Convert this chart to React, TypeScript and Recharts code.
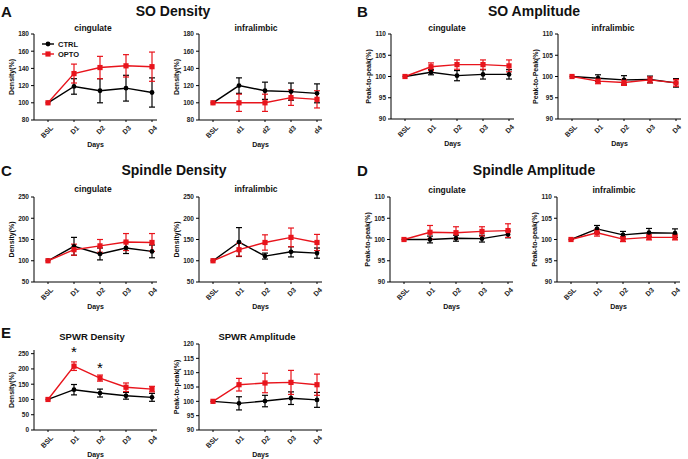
import React from 'react';
import { ErrorBar, Line, LineChart, ReferenceDot, XAxis, YAxis } from 'recharts';

const RED = '#e8141c';
const FONT = '"Liberation Sans", Arial, sans-serif';

const days = ['BSL', 'D1', 'D2', 'D3', 'D4'];
const daysLower = ['BSL', 'd1', 'd2', 'd3', 'd4'];

// SO density
const soDensCingCtrl = [100, 119, 114, 117, 112];
const soDensCingCtrlSem = [0, 9, 14, 15, 17];
const soDensCingOpto = [100, 134, 141, 143, 142];
const soDensCingOptoSem = [0, 11, 13, 13, 17];
const soDensInfCtrl = [100, 120, 114, 113, 111];
const soDensInfCtrlSem = [0, 9, 10, 10, 11];
const soDensInfOpto = [100, 100, 100, 106, 104];
const soDensInfOptoSem = [0, 10, 10, 9, 10];

// SO amplitude
const soAmpCingCtrl = [100, 101, 100.2, 100.5, 100.5];
const soAmpCingCtrlSem = [0, 0.6, 1.2, 1.1, 1.1];
const soAmpCingOpto = [100, 102.3, 102.8, 102.8, 102.5];
const soAmpCingOptoSem = [0, 0.9, 1.1, 1.1, 1.4];
const soAmpInfCtrl = [100, 99.6, 99.2, 99.3, 98.5];
const soAmpInfCtrlSem = [0, 0.8, 1, 0.8, 1];
const soAmpInfOpto = [100, 98.9, 98.6, 99.2, 98.5];
const soAmpInfOptoSem = [0, 0.6, 0.7, 0.7, 0.8];

// spindle density
const spDensCingCtrl = [100, 134, 116, 130, 122];
const spDensCingCtrlSem = [0, 21, 14, 13, 15];
const spDensCingOpto = [100, 126, 135, 144, 143];
const spDensCingOptoSem = [0, 13, 15, 20, 21];
const spDensInfCtrl = [100, 144, 111, 121, 118];
const spDensInfCtrlSem = [0, 34, 7, 12, 12];
const spDensInfOpto = [100, 126, 143, 155, 143];
const spDensInfOptoSem = [0, 15, 18, 22, 19];

// spindle amplitude
const spAmpCingCtrl = [100, 100, 100.3, 100.2, 101.2];
const spAmpCingCtrlSem = [0, 0.8, 0.7, 0.8, 0.8];
const spAmpCingOpto = [100, 101.7, 101.6, 101.9, 102.1];
const spAmpCingOptoSem = [0, 1.6, 1.4, 1.1, 1.6];
const spAmpInfCtrl = [100, 102.5, 101.1, 101.6, 101.5];
const spAmpInfCtrlSem = [0, 0.8, 0.8, 1, 1];
const spAmpInfOpto = [100, 101.6, 100.1, 100.5, 100.5];
const spAmpInfOptoSem = [0, 0.8, 0.6, 0.6, 0.6];

// SPWR
const swDensCtrl = [100, 132, 121, 112, 107];
const swDensCtrlSem = [0, 17, 13, 11, 13];
const swDensOpto = [100, 209, 170, 140, 134];
const swDensOptoSem = [0, 14, 10, 14, 9];
const swAmpCtrl = [100, 99.3, 100.1, 101.1, 100.5];
const swAmpCtrlSem = [0, 2.3, 2, 2.2, 2.6];
const swAmpOpto = [100, 105.8, 106.4, 106.6, 105.8];
const swAmpOptoSem = [0, 2.2, 3.4, 4.2, 3.7];

const swStarDays = ['D1', 'D2'];
const swStarValues = [262, 210];

const soDensTicks = [80, 100, 120, 140, 160, 180];
const ampTicks = [90, 95, 100, 105, 110];
const spDensTicks = [50, 100, 150, 200, 250];
const swDensTicks = [0, 50, 100, 150, 200, 250];
const swAmpTicks = [90, 95, 100, 105, 110, 115, 120];

const build = (cats: string[], ctrl: number[], ctrlSem: number[], opto: number[], optoSem: number[]) =>
  cats.map((day, i) => ({ day, ctrl: ctrl[i], ctrlSem: ctrlSem[i], opto: opto[i], optoSem: optoSem[i] }));

const RotTick = (props: any) => {
  const { x, y, payload } = props;
  return (
    <g transform={`translate(${x + 2},${y + 1})`}>
      <text x={0} y={0} dy={5} textAnchor="end" transform="rotate(-45)" fontSize={7} fontWeight="bold" fill="#222" fontFamily={FONT}>
        {payload.value}
      </text>
    </g>
  );
};

const CircleDot = (p: any) => (p.cx == null ? null : <circle key={p.index} cx={p.cx} cy={p.cy} r={2.4} fill="#000" />);
const SquareDot = (p: any) => (p.cx == null ? null : <rect key={p.index} x={p.cx - 2.6} y={p.cy - 2.6} width={5.2} height={5.2} fill={RED} />);

const Star = (p: any) => (
  <text x={p.cx} y={p.cy + 7} textAnchor="middle" fontSize={15} fontFamily={FONT} fill="#000">*</text>
);

interface ISubProps {
  x: number;
  y: number;
  h: number;
  data: any[];
  domain: number[];
  ticks: number[];
  yLabel: string;
  stars?: boolean;
}

const Sub = ({ x, y, h, data, domain, ticks, yLabel, stars }: ISubProps) => (
  <div style={{ position: 'absolute', left: x - 34, top: y - 10 }}>
    <LineChart width={161} height={h + 40} data={data} margin={{ top: 10, right: 4, bottom: 0, left: 0 }}>
      <XAxis
        dataKey="day"
        scale="point"
        padding={{ left: 14, right: 5 }}
        height={30}
        tickSize={2}
        interval={0}
        stroke="#000"
        tick={<RotTick />}
        label={{ value: 'Days', position: 'insideBottom', offset: 3, style: { fontSize: 7, fontWeight: 'bold', fill: '#111', fontFamily: FONT } }}
      />
      <YAxis
        width={34}
        domain={domain}
        ticks={ticks}
        interval={0}
        allowDataOverflow
        tickSize={3}
        stroke="#000"
        tick={{ fontSize: 6.5, fontWeight: 'bold', fill: '#222', fontFamily: FONT }}
        label={{ value: yLabel, angle: -90, position: 'insideLeft', offset: 12, style: { textAnchor: 'middle', fontSize: 7, fontWeight: 'bold', fill: '#111', fontFamily: FONT } }}
      />
      <Line dataKey="ctrl" stroke="#000" strokeWidth={1.4} dot={CircleDot} activeDot={false} isAnimationActive={false}>
        <ErrorBar dataKey="ctrlSem" direction="y" width={3} stroke="#000" strokeWidth={1.2} />
      </Line>
      <Line dataKey="opto" stroke={RED} strokeWidth={1.4} dot={SquareDot} activeDot={false} isAnimationActive={false}>
        <ErrorBar dataKey="optoSem" direction="y" width={3} stroke={RED} strokeWidth={1.2} />
      </Line>
      {stars &&
        swStarDays.map((d, i) => (
          <ReferenceDot key={d} x={d} y={swStarValues[i]} r={0} ifOverflow="visible" shape={Star} />
        ))}
    </LineChart>
  </div>
);

const Txt = ({ x, y, size, children, anchor = 'middle' }: any) => (
  <div
    style={{
      position: 'absolute',
      left: x,
      top: y,
      transform: anchor === 'middle' ? 'translate(-50%,-50%)' : 'translate(0,-50%)',
      fontSize: size,
      fontWeight: 'bold',
      fontFamily: FONT,
      whiteSpace: 'nowrap',
      lineHeight: 1,
      color: '#111'
    }}
  >
    {children}
  </div>
);

const LegendRow = ({ y, label, color, square }: any) => (
  <div style={{ position: 'absolute', left: 42, top: y - 5, height: 10, display: 'flex', alignItems: 'center' }}>
    <svg width={12} height={10}>
      <line x1={0} y1={5} x2={12} y2={5} stroke={color} strokeWidth={1.4} />
      {square ? <rect x={3.4} y={2.4} width={5.2} height={5.2} fill={color} /> : <circle cx={6} cy={5} r={2.4} fill={color} />}
    </svg>
    <span style={{ marginLeft: 4, fontSize: 7.5, fontWeight: 'bold', fontFamily: FONT, color: '#111' }}>{label}</span>
  </div>
);

export default function App() {
  return (
    <div style={{ position: 'absolute', left: 0, top: 0, width: 688, height: 459, background: '#fff', overflow: 'hidden' }}>
      <Txt x={1} y={11} size={15} anchor="start">A</Txt>
      <Txt x={173} y={11} size={14}>SO Density</Txt>
      <Txt x={93} y={28} size={8.5}>cingulate</Txt>
      <Txt x={256} y={28} size={8.5}>infralimbic</Txt>
      <Sub x={34} y={34} h={86} domain={[80, 180]} ticks={soDensTicks} yLabel="Density(%)"
        data={build(days, soDensCingCtrl, soDensCingCtrlSem, soDensCingOpto, soDensCingOptoSem)} />
      <Sub x={199} y={34} h={86} domain={[80, 180]} ticks={soDensTicks} yLabel="Density(%)"
        data={build(daysLower, soDensInfCtrl, soDensInfCtrlSem, soDensInfOpto, soDensInfOptoSem)} />
      <LegendRow y={44} label="CTRL" color="#000" />
      <LegendRow y={54} label="OPTO" color={RED} square />

      <Txt x={357} y={11} size={15} anchor="start">B</Txt>
      <Txt x={534} y={11} size={14}>SO Amplitude</Txt>
      <Txt x={447} y={28} size={8.5}>cingulate</Txt>
      <Txt x={613} y={28} size={8.5}>infralimbic</Txt>
      <Sub x={391} y={34} h={85} domain={[90, 110]} ticks={ampTicks} yLabel="Peak-to-peak(%)"
        data={build(days, soAmpCingCtrl, soAmpCingCtrlSem, soAmpCingOpto, soAmpCingOptoSem)} />
      <Sub x={558} y={34} h={85} domain={[90, 110]} ticks={ampTicks} yLabel="Peak-to-Peak(%)"
        data={build(days, soAmpInfCtrl, soAmpInfCtrlSem, soAmpInfOpto, soAmpInfOptoSem)} />

      <Txt x={1} y={170} size={15} anchor="start">C</Txt>
      <Txt x={174} y={170} size={14}>Spindle Density</Txt>
      <Txt x={93} y={189} size={8.5}>cingulate</Txt>
      <Txt x={256} y={189} size={8.5}>infralimbic</Txt>
      <Sub x={34} y={197} h={85} domain={[50, 250]} ticks={spDensTicks} yLabel="Density(%)"
        data={build(days, spDensCingCtrl, spDensCingCtrlSem, spDensCingOpto, spDensCingOptoSem)} />
      <Sub x={199} y={197} h={85} domain={[50, 250]} ticks={spDensTicks} yLabel="Density(%)"
        data={build(days, spDensInfCtrl, spDensInfCtrlSem, spDensInfOpto, spDensInfOptoSem)} />

      <Txt x={357} y={170} size={15} anchor="start">D</Txt>
      <Txt x={534} y={170} size={14}>Spindle Amplitude</Txt>
      <Txt x={447} y={190} size={8.5}>cingulate</Txt>
      <Txt x={614} y={190} size={8.5}>infralimbic</Txt>
      <Sub x={390} y={197} h={85} domain={[90, 110]} ticks={ampTicks} yLabel="Peak-to-peak(%)"
        data={build(days, spAmpCingCtrl, spAmpCingCtrlSem, spAmpCingOpto, spAmpCingOptoSem)} />
      <Sub x={557} y={197} h={85} domain={[90, 110]} ticks={ampTicks} yLabel="Peak-to-peak(%)"
        data={build(days, spAmpInfCtrl, spAmpInfCtrlSem, spAmpInfOpto, spAmpInfOptoSem)} />

      <Txt x={1} y={332} size={15} anchor="start">E</Txt>
      <Txt x={92} y={337} size={9.5}>SPWR Density</Txt>
      <Txt x={257} y={337} size={9.5}>SPWR Amplitude</Txt>
      <Sub x={34} y={350} h={80} domain={[0, 262]} ticks={swDensTicks} yLabel="Density(%)" stars
        data={build(days, swDensCtrl, swDensCtrlSem, swDensOpto, swDensOptoSem)} />
      <Sub x={199} y={344} h={86} domain={[90, 120]} ticks={swAmpTicks} yLabel="Peak-to-peak(%)"
        data={build(days, swAmpCtrl, swAmpCtrlSem, swAmpOpto, swAmpOptoSem)} />
    </div>
  );
}
